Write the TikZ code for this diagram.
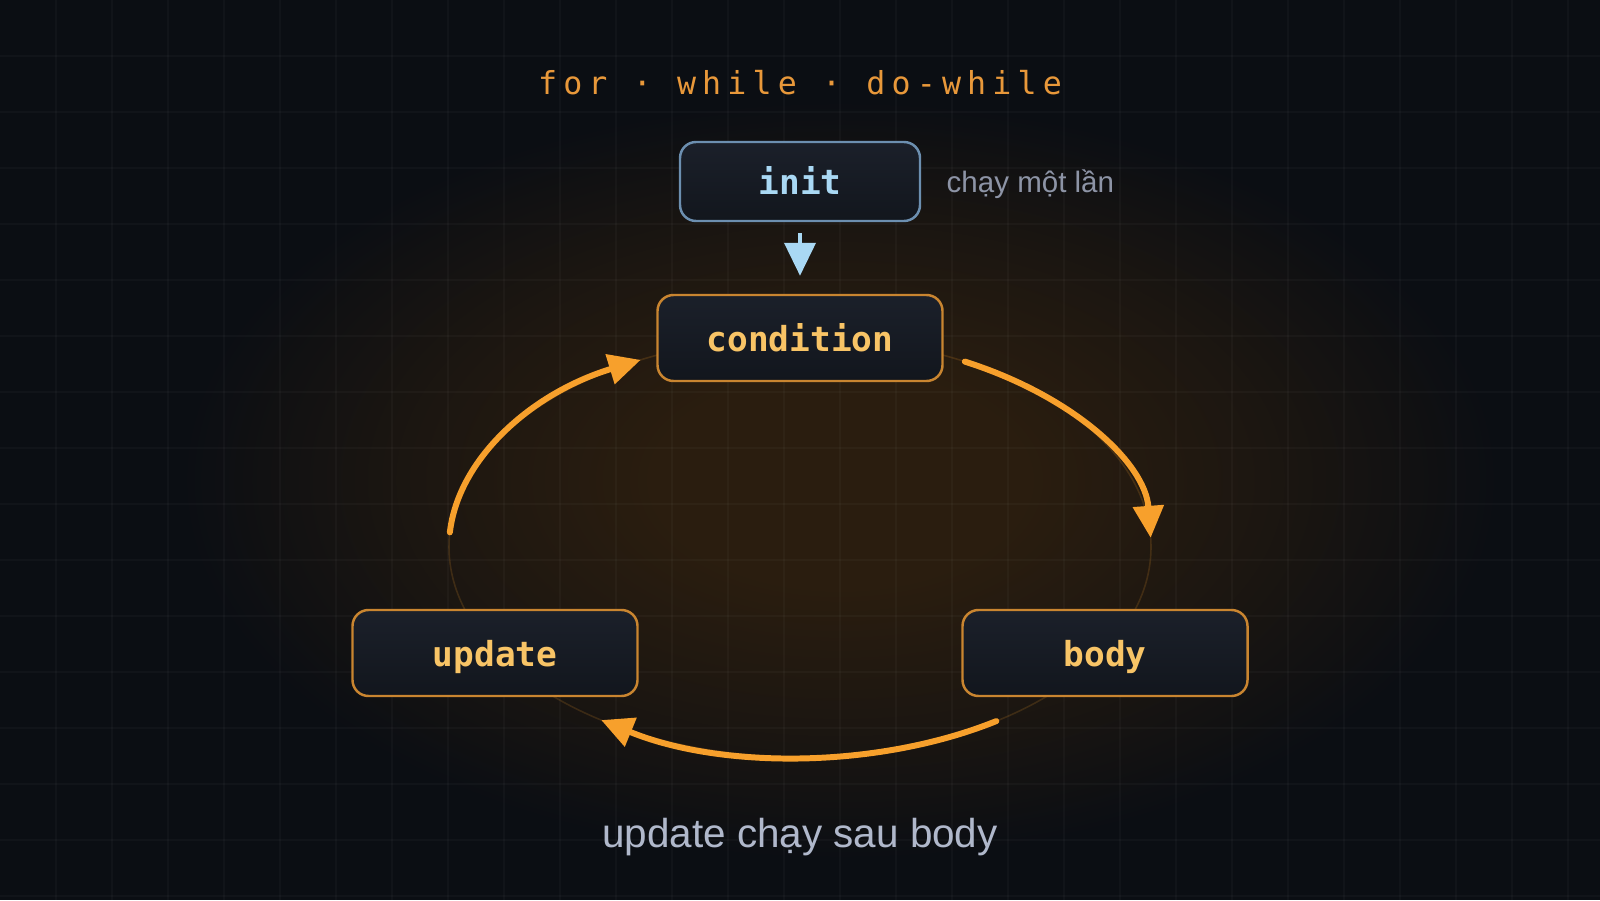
\documentclass[tikz,border=0pt]{standalone}
\usepackage{fontspec}
\setmainfont{Liberation Sans}
\newfontfamily\codefont{DejaVu Sans Mono}
\newfontfamily\titlefont{DejaVu Sans Mono}[LetterSpace=19.5]
\usetikzlibrary{arrows.meta}
\definecolor{bgdark}{HTML}{0B0E13}
\definecolor{glow}{HTML}{2A1D0F}
\definecolor{loopor}{HTML}{F7A02C}
\definecolor{boxor}{HTML}{C98530}
\definecolor{boxblue}{HTML}{6C8FB0}
\definecolor{boxtop}{HTML}{1B202A}
\definecolor{boxbot}{HTML}{12161D}
\definecolor{txtgold}{HTML}{F8C466}
\definecolor{txtblue}{HTML}{A9D8F4}
\definecolor{titleor}{HTML}{E8983A}
\definecolor{notegray}{HTML}{8D94A6}
\definecolor{capgray}{HTML}{B0B8CB}
\pgfdeclareradialshading{glowshade}{\pgfpointorigin}{color(0bp)=(glow); color(7bp)=(glow); color(16bp)=(glow!55!bgdark); color(25bp)=(bgdark); color(50bp)=(bgdark)}
\tikzset{
  loopbox/.style={draw=boxor, line width=0.7pt, rounded corners=0.16cm,
    top color=boxtop, bottom color=boxbot, inner sep=0pt,
    minimum width=2.85cm, minimum height=0.86cm,
    font=\codefont\bfseries\fontsize{9.8}{12}\selectfont, text=txtgold,
    text height=7.45pt, text depth=0pt},
  flow/.style={draw=loopor, line width=1.7pt, line cap=round,
    -{Triangle[length=3.2mm, width=3.0mm]}},
  gridline/.style={white, opacity=0.028, line width=0.3pt}
}
\begin{document}
\begin{tikzpicture}
\useasboundingbox (0,0) rectangle (16,9);
% Background
\fill[bgdark] (0,0) rectangle (16,9);
\shade[shading=glowshade] (8.4,4.2) ellipse [x radius=6.6, y radius=3.8];
\foreach \i in {1,...,28} \draw[gridline] (\i*0.56,0) -- (\i*0.56,9);
\foreach \j in {1,...,16} \draw[gridline] (0,9-\j*0.56) -- (16,9-\j*0.56);

% Loop ring
\coordinate (loop) at (8,3.53);
\draw[loopor, opacity=0.16, line width=0.45pt] (loop) ellipse [x radius=3.51, y radius=2.10];

% Title
\node[anchor=base, font=\titlefont\fontsize{9}{11}\selectfont, text=titleor] (title) at (8,8.05) {for · while · do-while};

% Steps
\node[loopbox, draw=boxblue, text=txtblue, minimum width=2.40cm, minimum height=0.79cm] (init) at (8,7.185) {init};
\node[anchor=base west, inner sep=0pt, text=notegray, font=\fontsize{8.4}{11}\selectfont] (note) at (9.46,7.07) {chạy một lần};
\node[loopbox] (cond) at (8,5.62) {condition};
\node[loopbox] (body) at (11.05,2.47) {body};
\node[loopbox] (update) at (4.95,2.47) {update};

% Arrows
\draw[txtblue, line width=1.15pt, shorten <=0.11cm, shorten >=0.18cm, -{Triangle[length=3.3mm, width=3.1mm]}] (init) -- (cond);
\path (loop) ++(62:3.51cm and 2.10cm) coordinate (cond-out);
\path (loop) ++(-56:3.51cm and 2.10cm) coordinate (body-out);
\path (loop) ++(176:3.51cm and 2.10cm) coordinate (update-out);
\draw[flow] (cond-out) arc [start angle=62, end angle=2.5, x radius=3.51, y radius=2.10];
\draw[flow] (body-out) arc [start angle=-56, end angle=-124.5, x radius=3.51, y radius=2.10];
\draw[flow] (update-out) arc [start angle=176, end angle=117, x radius=3.51, y radius=2.10];

% Caption
\node[anchor=base, text=capgray, font=\fontsize{11.5}{14}\selectfont] (caption) at (8,0.53) {update chạy sau body};
\end{tikzpicture}
\end{document}
